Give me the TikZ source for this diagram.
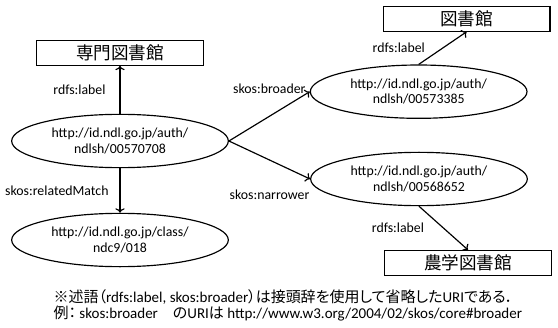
\documentclass[tikz,border=0pt]{standalone}
\usepackage{fontspec}
\setmainfont{Carlito}
\newfontfamily\jafont{Noto Sans CJK JP}
\newfontfamily\janote[RawFeature=+palt]{Noto Sans CJK JP}
\usetikzlibrary{positioning,arrows.meta,shapes.geometric}

\begin{document}
\begin{tikzpicture}[line width=1pt,node distance=3cm,on grid,
   uri/.style={draw,ellipse,minimum width=6.5cm,minimum height=1.6cm,inner sep=0pt,
      align=center,font=\fontsize{11.8}{13}\selectfont},
   lit/.style={draw,rectangle,minimum width=5cm,minimum height=0.75cm,
      font=\jafont\fontsize{15}{16}\selectfont},
   prop/.style={font=\fontsize{11.8}{13}\selectfont},
   note/.style={anchor=west,inner sep=0pt,font=\fontsize{12.8}{13}\selectfont}]
   \useasboundingbox (-3.6,-5.58) rectangle (13.14,4.23);

   \node[uri] (n708) {http://id.ndl.go.jp/auth/\\ndlsh/00570708};
   \node[lit] (senmon) [above=2.65cm of n708] {専門図書館};
   \node[uri] (n018) [below=2.97cm of n708] {http://id.ndl.go.jp/class/\\ndc9/018};
   \node[uri] (n385) at (8.96,1.48) {http://id.ndl.go.jp/auth/\\ndlsh/00573385};
   \node[uri] (n652) at (8.97,-1.14) {http://id.ndl.go.jp/auth/\\ndlsh/00568652};
   \node[lit] (tosho) [above right=2.19cm and 1.44cm of n385] {図書館};
   \node[lit] (nogaku) [below right=2.52cm and 1.47cm of n652] {農学図書館};

   \path[->]
   (n708.north) edge node[prop,left=0.3cm] {rdfs:label} (senmon.south)
   (n708.south) edge node[prop,left=0.21cm] {skos:relatedMatch} (n018.north)
   (n708.east) edge node[prop,above=0.55cm] {skos:broader} (n385.west)
   (n708.east) edge node[prop,below=0.75cm] {skos:narrower} (n652.west)
   (n385.north) edge node[prop,left=0.4cm] {rdfs:label} (tosho.south)
   (n652.south) edge node[prop,left=0.45cm] {rdfs:label} (nogaku.north);

   % footnote on the predicates
   \node[note] (note1) at (-2.01,-4.68)
      {{\janote ※述語（}rdfs:label, skos:broader{\janote ）は接頭辞を使用して省略した}URI{\janote である．}};
   \node[note] (note2) at (-2.01,-5.19)
      {{\janote 例：} skos:broader{\janote 　の}URI{\janote は} http://www.w3.org/2004/02/skos/core\#broader};
\end{tikzpicture}
\end{document}
